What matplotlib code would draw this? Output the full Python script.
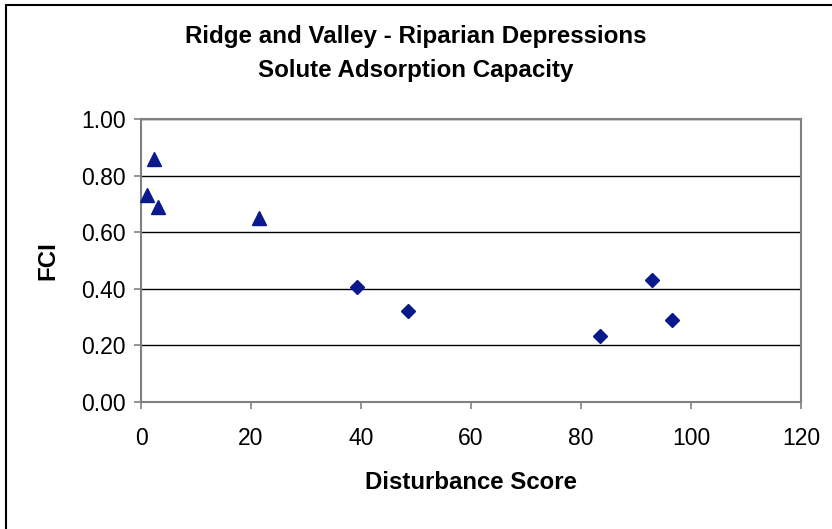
import matplotlib
matplotlib.use("Agg")
import matplotlib.pyplot as plt
from matplotlib.patches import Rectangle

plt.rcParams["font.family"] = ["Liberation Sans", "DejaVu Sans"]

# triangles: low-disturbance sites
tri_x = [1.1, 2.4, 3.1, 21.5]
tri_y = [0.73, 0.86, 0.69, 0.65]

# diamonds: remaining sites
dia_x = [39.3, 48.5, 83.5, 92.9, 96.5]
dia_y = [0.405, 0.32, 0.233, 0.43, 0.29]

x_ticks = [0, 20, 40, 60, 80, 100, 120]
y_ticks = [0.0, 0.2, 0.4, 0.6, 0.8, 1.0]

W, H = 832, 529
MARK = "#0A1A8C"
GREY = "#808080"

fig = plt.figure(figsize=(W / 100, H / 100), dpi=100)
ax = fig.add_axes([141 / W, 1 - 402 / H, 660 / W, 283 / H])

ax.plot(tri_x, tri_y, linestyle="none", marker="^", markersize=10,
        color=MARK, zorder=3, clip_on=False)
ax.plot(dia_x, dia_y, linestyle="none", marker="D", markersize=7.2,
        color=MARK, zorder=3, clip_on=False)

ax.set_xlim(0, 120)
ax.set_ylim(0, 1)
ax.set_xticks(x_ticks)
ax.set_yticks(y_ticks)
ax.set_yticklabels([f"{v:.2f}" for v in y_ticks])
ax.tick_params(labelsize=16.5, length=5, width=1.2, color=GREY)
ax.tick_params(axis="x", pad=13)
ax.tick_params(axis="y", pad=6)
ax.grid(axis="y", color="black", linewidth=1.0)
for s in ax.spines.values():
    s.set_color(GREY)
    s.set_linewidth(1.5)

ax.set_xlabel("Disturbance Score", fontsize=17.3, fontweight="bold", labelpad=15)
ax.set_ylabel("FCI", fontsize=17.3, fontweight="bold", labelpad=16)

fig.text(0.5, 1 - 37 / H, "Ridge and Valley - Riparian Depressions",
         ha="center", va="center", fontsize=17.4, fontweight="bold")
fig.text(0.5, 1 - 71 / H, "Solute Adsorption Capacity",
         ha="center", va="center", fontsize=17.4, fontweight="bold")

# outer chart frame (runs off the right and bottom edges)
fig.patches.append(Rectangle((6 / W, -0.05), 1.0, 1 - 5 / H + 0.05,
                             transform=fig.transFigure, fill=False,
                             edgecolor="black", linewidth=1.5))

fig.savefig("out.png", dpi=100)
